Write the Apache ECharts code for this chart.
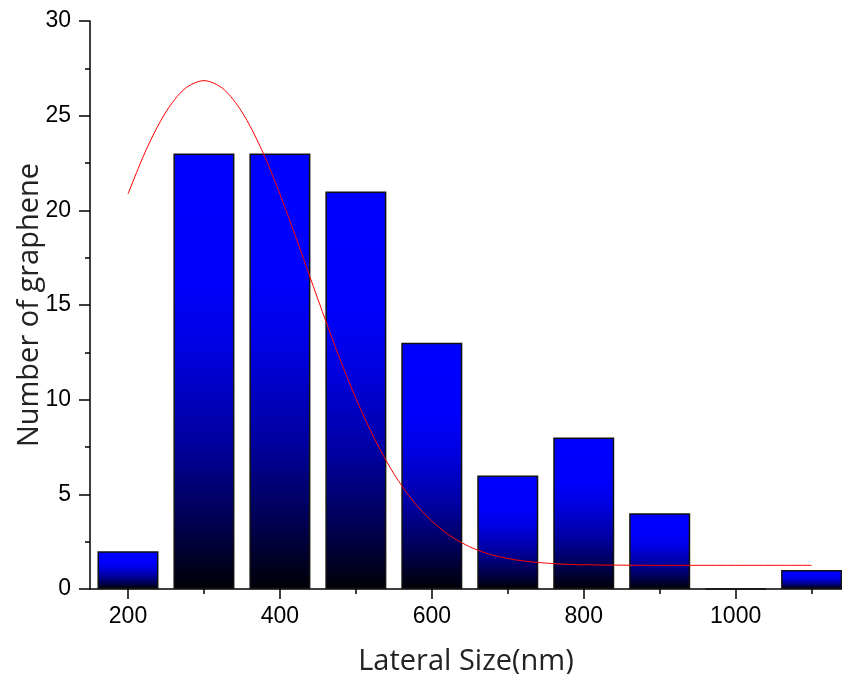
<!DOCTYPE html>
<html>
<head>
<meta charset="utf-8">
<script src="https://cdn.jsdelivr.net/npm/echarts@6/dist/echarts.min.js"></script>
<style>html,body{margin:0;padding:0;background:#fff}#c{width:842px;height:674px}</style>
</head>
<body>
<div id="c"></div>
<script>
// Histogram bins (bin centre, nm) and counts
var binCenters = [200, 300, 400, 500, 600, 700, 800, 900, 1000, 1100];
var counts = [2, 23, 23, 21, 13, 6, 8, 4, 0, 1];
// Gaussian fit curve
var fitX = [200, 225, 250, 275, 300, 325, 350, 375, 400, 425, 450, 475, 500, 525, 550, 575, 600, 625, 650, 675, 700, 725, 750, 775, 800, 850, 900, 950, 1000, 1050, 1100];
var fitY = [20.86, 23.29, 25.20, 26.43, 26.85, 26.43, 25.20, 23.29, 20.86, 18.13, 15.31, 12.57, 10.07, 7.90, 6.09, 4.66, 3.58, 2.79, 2.23, 1.85, 1.61, 1.46, 1.37, 1.31, 1.28, 1.26, 1.25, 1.25, 1.25, 1.25, 1.25];
// Axis ticks
var xMajorTicks = [200, 400, 600, 800, 1000];
var xMinorTicks = [300, 500, 700, 900, 1100];

var barData = binCenters.map(function (x, i) { return [x, counts[i]]; });
var fitData = fitX.map(function (x, i) { return [x, fitY[i]]; });

var chart = echarts.init(document.getElementById('c'), null, {renderer: 'canvas'});
var tickFont = '"Liberation Sans", Arial, sans-serif';
var nameFont = '"Open Sans", Lato, sans-serif';
chart.setOption({
  animation: false,
  backgroundColor: '#fff',
  grid: {left: 90, right: 0, top: 21, bottom: 85, containLabel: false, outerBoundsMode: 'none'},
  xAxis: [{
    type: 'value', min: 150, max: 1140,
    name: 'Lateral Size(nm)', nameLocation: 'middle', nameGap: 58,
    nameTextStyle: {fontFamily: nameFont, fontSize: 29, color: '#222'},
    axisLine: {show: true, onZero: false, lineStyle: {color: '#000', width: 1.5}},
    axisTick: {show: true, inside: false, length: 10, customValues: xMajorTicks, lineStyle: {color: '#000', width: 1.5}},
    axisLabel: {show: true, customValues: xMajorTicks, margin: 16, fontFamily: tickFont, fontSize: 23, color: '#000',
      formatter: function (v) { return String(v); }},
    splitLine: {show: false}
  }, {
    type: 'value', min: 150, max: 1140, position: 'bottom',
    axisLine: {show: false},
    axisTick: {show: true, inside: false, length: 5, customValues: xMinorTicks, lineStyle: {color: '#000', width: 1.5}},
    axisLabel: {show: false},
    splitLine: {show: false}
  }],
  yAxis: {
    type: 'value', min: 0, max: 30, interval: 5,
    name: 'Number of graphene', nameLocation: 'middle', nameGap: 46, nameRotate: 90, nameMoveOverlap: false,
    nameTextStyle: {fontFamily: nameFont, fontSize: 29, color: '#222'},
    axisLine: {show: true, lineStyle: {color: '#000', width: 1.5}},
    axisTick: {show: true, inside: false, length: 11, lineStyle: {color: '#000', width: 1.5}},
    minorTick: {show: true, splitNumber: 2, length: 5, lineStyle: {color: '#000', width: 1.5}},
    axisLabel: {margin: 19, fontFamily: tickFont, fontSize: 23, color: '#000'},
    splitLine: {show: false}
  },
  series: [{
    type: 'bar',
    xAxisIndex: 0,
    data: barData,
    barWidth: 61,
    itemStyle: {
      borderColor: '#111', borderWidth: 1.5,
      color: new echarts.graphic.LinearGradient(0, 0, 0, 1, [
        {offset: 0, color: '#0000ff'},
        {offset: 0.3, color: '#0000fc'},
        {offset: 0.45, color: '#0000e0'},
        {offset: 0.66, color: '#0000a0'},
        {offset: 0.85, color: '#000050'},
        {offset: 1, color: '#000005'}
      ])
    },
    z: 2
  }, {
    type: 'line',
    xAxisIndex: 0,
    data: fitData,
    smooth: 0.3,
    showSymbol: false,
    lineStyle: {color: '#ff0000', width: 1},
    z: 3
  }]
});
</script>
</body>
</html>
